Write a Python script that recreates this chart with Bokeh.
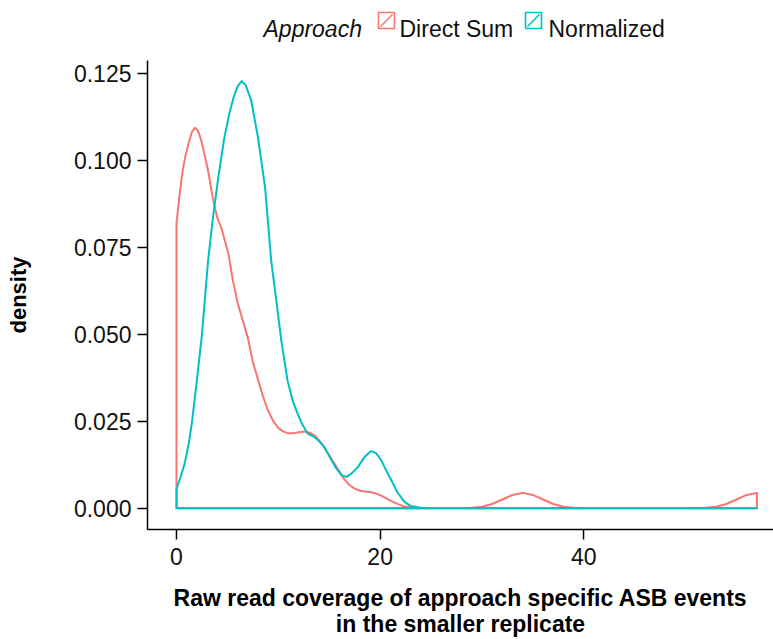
from bokeh.plotting import figure
from bokeh.layouts import column
from bokeh.models import NumeralTickFormatter, FixedTicker, Range1d
from bokeh.core.properties import value
from bokeh.embed import file_html
from bokeh.resources import INLINE

# ---- data ----
legend_title = "Approach"
series_names = ["Direct Sum", "Normalized"]
series_colors = ["#F8766D", "#00BFC4"]

direct_x = [0, 0.3, 0.6, 0.9, 1.2, 1.5, 1.8, 2.1, 2.4, 2.8, 3.1, 3.6, 4.0, 4.4, 5.1, 5.5,
            6.0, 6.5, 7.0, 7.5, 8.0, 8.5, 9.0, 9.5, 10.0, 10.5, 11.0, 11.5, 12.0, 12.6,
            13.1, 13.6, 14.0, 14.5, 15.0, 15.5, 16.0, 16.5, 17.0, 17.5, 18.0, 18.5, 19.1,
            19.6, 20.1, 20.6, 21.2, 21.8, 22.4, 23.0, 24.0, 26.0, 28.0, 29.0, 30.0, 31.0,
            32.0, 33.0, 34.0, 35.0, 36.0, 37.0, 38.0, 39.0, 40.0, 45.0, 50.0, 52.0, 53.0,
            54.0, 55.0, 56.0, 57.0]
direct_y = [0.082, 0.090, 0.097, 0.1015, 0.105, 0.108, 0.1093, 0.1085, 0.106, 0.101, 0.097,
            0.0885, 0.0835, 0.0805, 0.0731, 0.066, 0.059, 0.054, 0.049, 0.042, 0.037, 0.032,
            0.028, 0.025, 0.023, 0.022, 0.0215, 0.0215, 0.0218, 0.0220, 0.0217, 0.0208,
            0.0195, 0.0176, 0.0152, 0.0128, 0.0105, 0.0082, 0.0066, 0.0056, 0.0050, 0.0048,
            0.0046, 0.0042, 0.0036, 0.0028, 0.0019, 0.0011, 0.0005, 0.0002, 0.00003, 0.0,
            0.0, 0.0001, 0.0004, 0.0012, 0.0025, 0.0038, 0.0044, 0.0038, 0.0025, 0.0012,
            0.0004, 0.0001, 0.0, 0.0, 0.0, 0.0001, 0.0004, 0.0012, 0.0025, 0.0038, 0.0044]

norm_x = [0, 0.4, 0.8, 1.2, 1.5, 2.0, 2.5, 3.1, 3.6, 4.1, 4.7, 5.2, 5.6, 6.0, 6.4, 6.8,
          7.35, 8.0, 8.7, 9.3, 9.8, 10.3, 10.9, 11.4, 11.9, 12.4, 12.9, 13.5, 14.0, 14.5,
          15.0, 15.6, 16.2, 16.7, 17.2, 17.8, 18.5, 19.1, 19.6, 20.1, 20.6, 21.1, 21.7,
          22.4, 23.0, 24.0, 25.0, 57.0]
norm_y = [0.0055, 0.009, 0.0128, 0.0185, 0.0243, 0.0367, 0.050, 0.0711, 0.084, 0.095,
          0.1065, 0.1135, 0.118, 0.1212, 0.1227, 0.1215, 0.117, 0.1065, 0.0921, 0.0711,
          0.0596, 0.048, 0.0367, 0.031, 0.0271, 0.0238, 0.0214, 0.0205, 0.0193, 0.0176,
          0.015, 0.0118, 0.0095, 0.009, 0.0100, 0.0118, 0.0148, 0.0164, 0.0158, 0.0138,
          0.0108, 0.008, 0.0045, 0.0018, 0.0006, 0.0001, 0.0, 0.0]

x_ticks = [0, 20, 40]
y_ticks = [0.0, 0.025, 0.05, 0.075, 0.1, 0.125]

FONT = "Liberation Sans"
FS = "23px"
W = 773
LEFT = 147

# ---------------- legend strip (page-pixel coordinates, y down) ----------------
leg = figure(width=W, height=60, output_backend="svg", toolbar_location=None,
             x_range=Range1d(LEFT, W), y_range=Range1d(60, 0),
             min_border_left=LEFT, min_border_right=0, min_border_top=0, min_border_bottom=0)
leg.axis.visible = False
leg.grid.grid_line_color = None
leg.outline_line_color = None
leg.border_fill_color = "white"

leg.text(x=[263], y=[28], text=[legend_title], text_font=value(FONT),
         text_font_size=FS, text_font_style="italic", text_color="#111111",
         text_baseline="alphabetic", text_align="left")
key_left = [378, 525]
label_left = [399, 548]
for name, col, kx, lx in zip(series_names, series_colors, key_left, label_left):
    leg.quad(left=[kx], right=[kx + 16], top=[12], bottom=[28], fill_alpha=0,
             line_color=col, line_width=1.6)
    leg.segment(x0=[kx + 2], y0=[26], x1=[kx + 14], y1=[14], line_color=col, line_width=1.6)
    leg.text(x=[lx], y=[28], text=[name], text_font=value(FONT), text_font_size=FS,
             text_color="#111111", text_baseline="alphabetic", text_align="left")

# ---------------- main plot ----------------
p = figure(width=W, height=579, output_backend="svg", toolbar_location=None,
           x_range=Range1d(-2.85, 58.63), y_range=Range1d(-0.006125, 0.128625),
           min_border_left=LEFT, min_border_right=0, min_border_top=0, min_border_bottom=110)
p.outline_line_color = None
p.grid.grid_line_color = None
p.background_fill_color = "white"
p.border_fill_color = "white"

for xs, ys, col in [(direct_x, direct_y, series_colors[0]), (norm_x, norm_y, series_colors[1])]:
    px = [xs[0]] + list(xs) + [xs[-1]]
    py = [0.0] + list(ys) + [0.0]
    p.patch(px, py, fill_alpha=0, line_color=col, line_width=2, line_join="round")

for ax in (p.xaxis, p.yaxis):
    ax.axis_line_color = "black"
    ax.axis_line_width = 1.5
    ax.major_tick_line_color = "black"
    ax.major_tick_line_width = 1.5
    ax.major_tick_out = 10
    ax.major_tick_in = 0
    ax.minor_tick_line_color = None
    ax.major_label_text_font = FONT
    ax.major_label_text_font_size = FS
    ax.major_label_text_color = "#111111"
    ax.axis_label_text_font = FONT
    ax.axis_label_text_font_style = "bold"
    ax.axis_label_text_color = "black"

p.xaxis.axis_label_text_font_size = "23px"
p.yaxis.axis_label_text_font_size = "22px"
p.xaxis.axis_label_text_line_height = 1.0
p.xaxis.ticker = FixedTicker(ticks=x_ticks)
p.yaxis.ticker = FixedTicker(ticks=y_ticks)
p.yaxis.formatter = NumeralTickFormatter(format="0.000")
p.xaxis.major_label_standoff = 8
p.yaxis.major_label_standoff = 6
p.xaxis.axis_label = "Raw read coverage of approach specific ASB events\nin the smaller replicate"
p.yaxis.axis_label = "density"
p.xaxis.axis_label_standoff = 17
p.yaxis.axis_label_standoff = 40

layout = column(leg, p, spacing=0)
open("out.html", "w").write(file_html(layout, INLINE))
